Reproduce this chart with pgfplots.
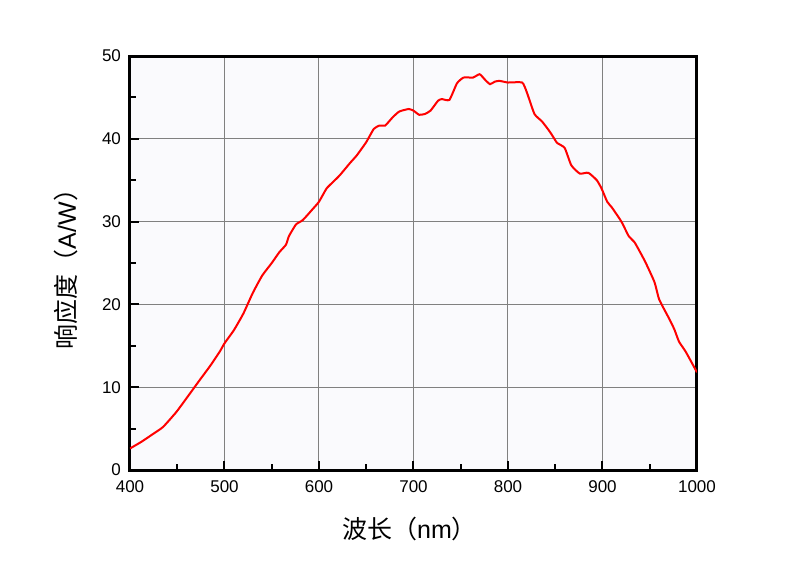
\documentclass[border=0pt]{standalone}
\usepackage{pgfplots}
\pgfplotsset{compat=1.18}
\usepackage{fontspec}
\setmainfont{Liberation Sans}
\newfontfamily\cjk{Noto Sans CJK SC}
\definecolor{bgc}{HTML}{FAFAFD}
\definecolor{gridc}{HTML}{808080}
\begin{document}
\begin{tikzpicture}
\begin{axis}[
  name=ax,
  at={(0,0)}, anchor=south west,
  scale only axis,
  width=283.5pt, height=207pt,
  xmin=400, xmax=1000, ymin=0, ymax=50,
  xtick={400,500,...,1000}, ytick={0,10,...,50},
  minor xtick={450,550,...,950}, minor ytick={5,15,...,45},
  tick pos=left, tick align=inside,
  major tick length=4.5pt, minor tick length=3pt,
  every tick/.style={black, line width=1pt},
  grid=major,
  major grid style={gridc, line width=0.5pt},
  axis line style={line width=1.5pt},
  axis background/.style={fill=bgc},
  /pgf/number format/assume math mode=true,
  /pgf/number format/1000 sep={},
  ticklabel style={font=\fontsize{8.5}{10}\selectfont},
  xticklabel style={yshift=-2pt},
  yticklabel style={xshift=-1pt},
  xlabel={{\cjk 波长（}nm{\cjk ）}},
  ylabel={{\cjk 响应度（}A/W{\cjk ）}},
  xlabel style={font=\fontsize{12.5}{14}\selectfont, yshift=-5pt, xshift=-2pt},
  ylabel style={font=\fontsize{12.5}{14}\selectfont, yshift=5pt},
]
\addplot[red, line width=1pt, smooth, tension=0.3] coordinates {
(400,2.6)(412,3.4)(425,4.4)(435,5.2)(449,7.0)(460,8.7)(474,10.9)(485,12.6)(495,14.3)(500,15.3)(510,16.9)(520,18.9)(530,21.4)(540,23.5)(550,25.0)(558,26.3)(565,27.2)(568,28.2)(572,29.0)(576,29.7)(583,30.2)(594,31.6)(600,32.4)(608,34.0)(615,34.8)(622,35.6)(633,37.1)(640,38.0)(650,39.6)(658,41.2)(664,41.6)(670,41.6)(678,42.6)(685,43.3)(695,43.6)(700,43.4)(706,42.9)(712,43.0)(718,43.4)(726,44.6)(730,44.8)(738,44.7)(746,46.7)(753,47.4)(763,47.4)(770,47.8)(776,47.1)(781,46.6)(786,46.9)(791,47.0)(800,46.8)(815,46.8)(820,45.6)(828,43.0)(836,42.1)(844,40.9)(848,40.2)(852,39.5)(860,38.9)(867,36.8)(876,35.8)(885,35.9)(894,35.0)(899,34.0)(905,32.4)(910,31.7)(920,30.0)(928,28.2)(934,27.5)(945,25.2)(955,22.7)(960,20.6)(970,18.4)(976,17.0)(981,15.5)(988,14.3)(1000,11.8)
};
\end{axis}
\pgfresetboundingbox
\path[use as bounding box] (-65pt,-49.5pt) rectangle (335pt,235pt);
\end{tikzpicture}
\end{document}
